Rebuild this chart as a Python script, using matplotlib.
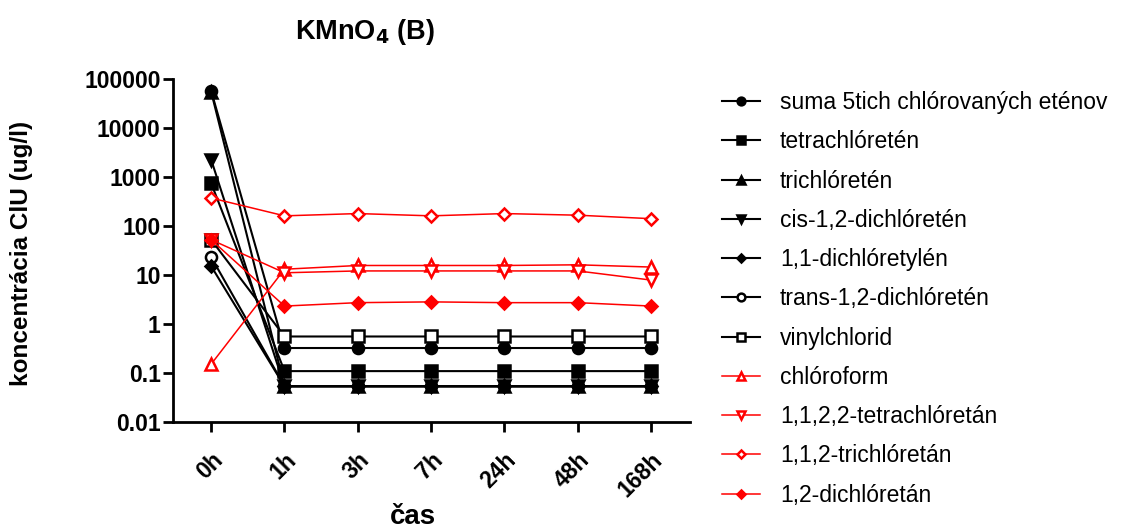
import matplotlib
matplotlib.use('Agg')
import matplotlib.pyplot as plt

plt.rcParams['font.family'] = ['Liberation Sans', 'DejaVu Sans']

# time points
times = ['0h', '1h', '3h', '7h', '24h', '48h', '168h']

# concentrations (ug/l)
suma = [57000, 0.32, 0.32, 0.32, 0.32, 0.32, 0.32]
tetrachloreten = [740, 0.108, 0.108, 0.108, 0.108, 0.108, 0.108]
trichloreten = [55000, 0.053, 0.053, 0.053, 0.053, 0.053, 0.053]
cis_dce = [2240, 0.053, 0.053, 0.053, 0.053, 0.053, 0.053]
dce_11 = [15, 0.053, 0.053, 0.053, 0.053, 0.053, 0.053]
trans_dce = [23, 0.053, 0.053, 0.053, 0.053, 0.053, 0.053]
vinylchlorid = [52, 0.55, 0.55, 0.55, 0.55, 0.55, 0.55]
chloroform = [0.15, 13, 15.5, 15.5, 15.5, 16, 14.4]
tetrachloretan = [52, 11, 12, 12, 12, 12, 7.8]
trichloretan = [370, 160, 178, 160, 178, 165, 140]
dichloretan = [52, 2.3, 2.7, 2.8, 2.7, 2.7, 2.3]

labels = ['suma 5tich chlórovaných eténov', 'tetrachlóretén', 'trichlóretén',
          'cis-1,2-dichlóretén', '1,1-dichlóretylén', 'trans-1,2-dichlóretén',
          'vinylchlorid', 'chlóroform', '1,1,2,2-tetrachlóretán',
          '1,1,2-trichlóretán', '1,2-dichlóretán']
series = [suma, tetrachloreten, trichloreten, cis_dce, dce_11, trans_dce,
          vinylchlorid, chloroform, tetrachloretan, trichloretan, dichloretan]
markers = ['o', 's', '^', 'v', 'D', 'o', 's', '^', 'v', 'D', 'D']
filled = [True, True, True, True, True, False, False, False, False, False, True]
colors = ['black'] * 7 + ['red'] * 4

fig = plt.figure(figsize=(11.28, 5.29), dpi=100)
ax = fig.add_axes([0.1534, 0.2028, 0.4583, 0.648])

x = list(range(len(times)))
for c, vals in enumerate(series):
    col = colors[c]
    face = col if filled[c] else 'white'
    ms = 8 if markers[c] != 'D' else 6.5
    lw = 1.5 if col == 'black' else 1.1
    z = 1.9 if c == 5 else 2
    ax.plot(x, vals, color=col, marker=markers[c], markersize=ms,
            markerfacecolor=face, markeredgecolor=col, markeredgewidth=1.8,
            linewidth=lw, label=labels[c], zorder=z)

ax.set_yscale('log')
ax.set_ylim(0.01, 100000)
ax.set_xlim(-0.52, 6.53)
ax.set_yticks([0.01, 0.1, 1, 10, 100, 1000, 10000, 100000])
ax.set_yticklabels(['0.01', '0.1', '1', '10', '100', '1000', '10000', '100000'])
ax.minorticks_off()
ax.set_xticks(x)
ax.set_xticklabels(times, rotation=45, ha='right', va='top', rotation_mode='anchor')

for s in ['top', 'right']:
    ax.spines[s].set_visible(False)
for s in ['left', 'bottom']:
    ax.spines[s].set_linewidth(2)
ax.tick_params(axis='both', direction='out', length=7, width=2, labelsize=16.5)
ax.tick_params(axis='x', pad=12)
ax.tick_params(axis='y', pad=2)
for t in ax.get_xticklabels() + ax.get_yticklabels():
    t.set_fontweight('bold')

fig.text(365 / 1128, 1 - 32 / 529, r'KMnO$_\mathbf{4}$ (B)', ha='center', va='center',
         fontsize=19.5, fontweight='bold')
fig.text(413 / 1128, 1 - 517 / 529, 'čas', ha='center', va='center',
         fontsize=20, fontweight='bold')
fig.text(22 / 1128, 1 - 253 / 529, 'koncentrácia ClU (ug/l)', ha='center', va='center',
         rotation=90, fontsize=17.5, fontweight='bold')

handles, labs = ax.get_legend_handles_labels()
leg = fig.legend(handles, labs, loc='upper left', bbox_to_anchor=(722 / 1128, 1 - 91 / 529),
                 frameon=False, fontsize=16.5, handlelength=1.66, handletextpad=0.87,
                 labelspacing=0.71, markerscale=0.7, borderaxespad=0, borderpad=0)

plt.savefig('out.png', dpi=100)
